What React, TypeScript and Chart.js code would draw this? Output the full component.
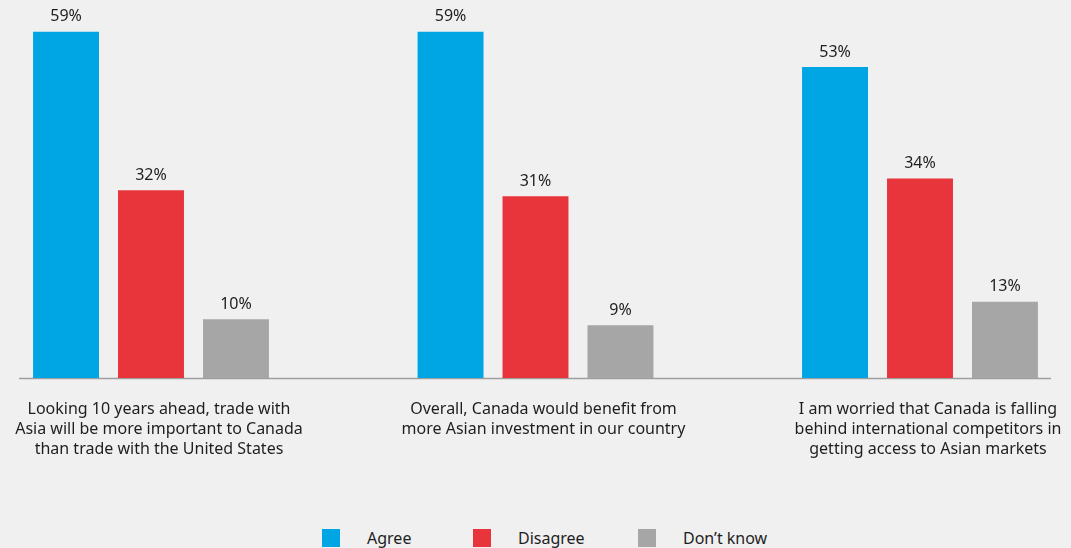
import React, { useEffect, useRef } from "react";
import { Chart, registerables } from "chart.js";

Chart.register(...registerables);

const categories: string[][] = [
  ["Looking 10 years ahead, trade with", "Asia will be more important to Canada", "than trade with the United States"],
  ["Overall, Canada would benefit from", "more Asian investment in our country"],
  ["I am worried that Canada is falling", "behind international competitors in", "getting access to Asian markets"],
];
const seriesNames = ["Agree", "Disagree", "Don\u2019t know"];
const agree = [59, 59, 53];
const disagree = [32, 31, 34];
const dontKnow = [10, 9, 13];
const seriesColors = ["#00a5e3", "#e8343b", "#a6a6a6"];

const FONT = '"Noto Sans", "Open Sans", sans-serif';
const TEXT = "#1e1e1e";

const baselinePlugin = {
  id: "baselinePlugin",
  beforeDatasetsDraw(chart: any) {
    const ctx = chart.ctx;
    const y = chart.scales.y.getPixelForValue(0);
    let minX = Infinity;
    let maxX = -Infinity;
    chart.data.datasets.forEach((_: any, i: number) => {
      chart.getDatasetMeta(i).data.forEach((bar: any) => {
        minX = Math.min(minX, bar.x - bar.width / 2);
        maxX = Math.max(maxX, bar.x + bar.width / 2);
      });
    });
    ctx.save();
    ctx.strokeStyle = "#9e9e9e";
    ctx.lineWidth = 1.5;
    ctx.beginPath();
    ctx.moveTo(minX - 14, Math.round(y) + 0.5);
    ctx.lineTo(maxX + 13, Math.round(y) + 0.5);
    ctx.stroke();
    ctx.restore();
  },
};

const valueLabelPlugin = {
  id: "valueLabelPlugin",
  afterDatasetsDraw(chart: any) {
    const ctx = chart.ctx;
    ctx.save();
    ctx.font = `16px ${FONT}`;
    ctx.fillStyle = TEXT;
    ctx.textAlign = "center";
    ctx.textBaseline = "middle";
    chart.data.datasets.forEach((ds: any, i: number) => {
      chart.getDatasetMeta(i).data.forEach((bar: any, j: number) => {
        ctx.fillText(`${ds.data[j]}%`, bar.x, bar.y - 15);
      });
    });
    ctx.restore();
  },
};

export default function App() {
  const canvasRef = useRef<HTMLCanvasElement | null>(null);

  useEffect(() => {
    document.body.style.margin = "0";
    document.body.style.background = "#f0f0f0";
    const canvas = canvasRef.current;
    if (!canvas) return;
    const seriesValues = [agree, disagree, dontKnow];
    const chart = new Chart(canvas, {
      type: "bar",
      data: {
        labels: categories,
        datasets: seriesValues.map((vals, i) => ({
          label: seriesNames[i],
          data: vals,
          backgroundColor: seriesColors[i],
          borderWidth: 0,
          categoryPercentage: 0.663,
          barPercentage: 0.776,
          clip: false as any,
        })),
      },
      options: {
        animation: false,
        responsive: true,
        maintainAspectRatio: false,
        layout: { padding: { left: 151, right: 151, top: 26, bottom: 21 } },
        plugins: {
          legend: { display: false },
          tooltip: { enabled: false },
        },
        scales: {
          x: {
            offset: false,
            grid: { display: true, color: "rgba(0,0,0,0)", drawTicks: true, tickLength: 21 },
            border: { display: false },
            ticks: {
              autoSkip: false,
              maxRotation: 0,
              minRotation: 0,
              padding: 0,
              labelOffset: 8,
              color: TEXT,
              font: { family: FONT, size: 16, lineHeight: "20px" as any },
            },
          },
          y: {
            display: false,
            min: 0,
            max: 60,
          },
        },
      },
      plugins: [baselinePlugin, valueLabelPlugin],
    });
    return () => chart.destroy();
  }, []);

  const legendWidths = [151, 165, 140];

  return (
    <div style={{ position: "relative", width: 1071, height: 548, overflow: "hidden", background: "#f0f0f0" }}>
      <div style={{ position: "absolute", left: 0, top: 0, width: 1071, height: 480 }}>
        <canvas ref={canvasRef} />
      </div>
      <div
        style={{
          position: "absolute",
          left: 322,
          top: 529,
          display: "flex",
          alignItems: "center",
          fontFamily: FONT,
          fontSize: 16,
          color: TEXT,
        }}
      >
        {seriesNames.map((name, i) => (
          <div key={name} style={{ display: "flex", alignItems: "center", width: legendWidths[i] }}>
            <span style={{ display: "inline-block", width: 18, height: 18, background: seriesColors[i] }} />
            <span style={{ marginLeft: 27, lineHeight: "18px", whiteSpace: "nowrap" }}>{name}</span>
          </div>
        ))}
      </div>
    </div>
  );
}
